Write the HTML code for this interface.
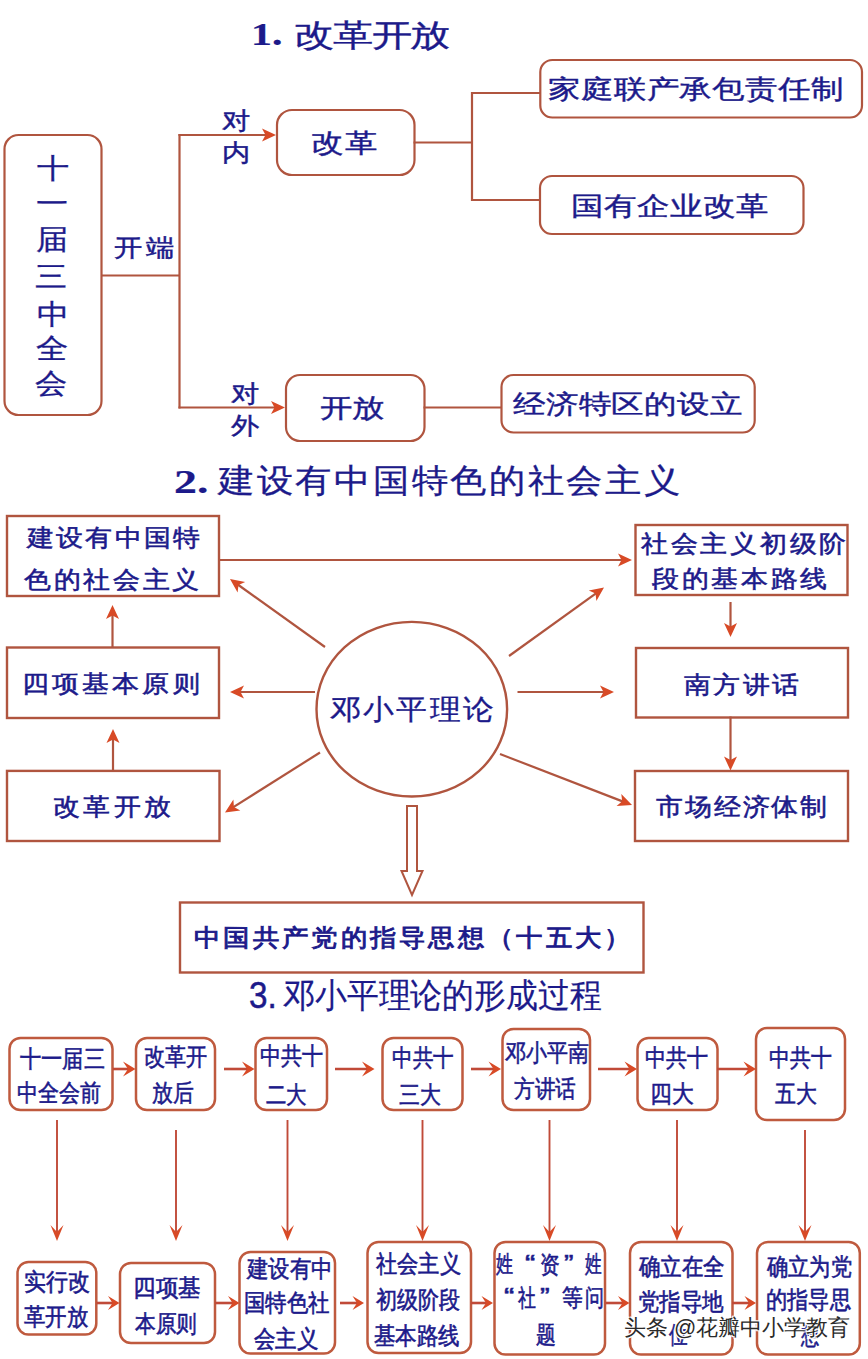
<!DOCTYPE html>
<html><head><meta charset="utf-8"><style>
html,body{margin:0;padding:0;background:#fff;width:868px;height:1359px;overflow:hidden}
.t{position:absolute;white-space:nowrap;color:#1c1a8a;transform-origin:0 0}
svg{position:absolute;left:0;top:0}
.wm{position:absolute;left:624px;top:1314px;font-family:"Liberation Sans",sans-serif;font-size:22px;line-height:28px;color:#2a2a2a;white-space:nowrap;text-shadow:1px 1px 0 #fff,-1px -1px 0 #fff,1px -1px 0 #fff,-1px 1px 0 #fff}
</style></head><body>
<svg width="868" height="1359" viewBox="0 0 868 1359"><rect x="4.5" y="135.0" width="97.0" height="280.0" rx="14" ry="14" fill="none" stroke="#b0553f" stroke-width="2.2"/><line x1="101.0" y1="275.5" x2="179.5" y2="275.5" stroke="#b0553f" stroke-width="2.2"/><line x1="179.5" y1="134.0" x2="179.5" y2="408.5" stroke="#b0553f" stroke-width="2.2"/><line x1="178.5" y1="135.0" x2="266.5" y2="135.0" stroke="#b0553f" stroke-width="2.2"/><path d="M276.0 135.0 L262.0 141.5 L265.5 135.0 L262.0 128.5 Z" fill="#d84a26"/><line x1="178.5" y1="407.5" x2="275.5" y2="407.5" stroke="#b0553f" stroke-width="2.2"/><path d="M285.0 407.5 L271.0 414.0 L274.5 407.5 L271.0 401.0 Z" fill="#d84a26"/><rect x="277.0" y="110.0" width="137.5" height="65.0" rx="15" ry="15" fill="none" stroke="#b0553f" stroke-width="2.2"/><line x1="413.5" y1="142.5" x2="472.0" y2="142.5" stroke="#b0553f" stroke-width="2.2"/><line x1="472.0" y1="92.0" x2="472.0" y2="201.0" stroke="#b0553f" stroke-width="2.2"/><line x1="471.0" y1="93.0" x2="540.0" y2="93.0" stroke="#b0553f" stroke-width="2.2"/><line x1="471.0" y1="200.0" x2="540.0" y2="200.0" stroke="#b0553f" stroke-width="2.2"/><rect x="540.3" y="60.0" width="321.7" height="57.5" rx="12" ry="12" fill="none" stroke="#b0553f" stroke-width="2.2"/><rect x="540.0" y="176.0" width="263.5" height="58.0" rx="12" ry="12" fill="none" stroke="#b0553f" stroke-width="2.2"/><rect x="286.0" y="375.0" width="138.5" height="66.0" rx="14" ry="14" fill="none" stroke="#b0553f" stroke-width="2.2"/><line x1="423.5" y1="407.5" x2="502.0" y2="407.5" stroke="#b0553f" stroke-width="2.2"/><rect x="501.5" y="375.0" width="253.2" height="57.5" rx="12" ry="12" fill="none" stroke="#b0553f" stroke-width="2.2"/><rect x="7.0" y="516.0" width="212.0" height="80.0" rx="0" ry="0" fill="none" stroke="#b0553f" stroke-width="2.4"/><rect x="635.5" y="525.0" width="212.0" height="70.0" rx="0" ry="0" fill="none" stroke="#b0553f" stroke-width="2.4"/><rect x="7.0" y="647.5" width="212.0" height="70.5" rx="0" ry="0" fill="none" stroke="#b0553f" stroke-width="2.4"/><rect x="636.0" y="648.0" width="212.0" height="69.5" rx="0" ry="0" fill="none" stroke="#b0553f" stroke-width="2.4"/><rect x="7.0" y="770.9" width="212.5" height="70.1" rx="0" ry="0" fill="none" stroke="#b0553f" stroke-width="2.4"/><rect x="635.0" y="771.0" width="213.0" height="70.0" rx="0" ry="0" fill="none" stroke="#b0553f" stroke-width="2.4"/><ellipse cx="411.8" cy="709.2" rx="95.3" ry="87.3" fill="none" stroke="#b0553f" stroke-width="2.4"/><line x1="218.0" y1="560.0" x2="622.5" y2="560.0" stroke="#b0553f" stroke-width="2.2"/><path d="M632.0 560.0 L618.0 566.5 L621.5 560.0 L618.0 553.5 Z" fill="#d84a26"/><line x1="325.0" y1="647.0" x2="237.7" y2="584.5" stroke="#b0553f" stroke-width="2.2"/><path d="M230.0 579.0 L245.2 581.9 L238.5 585.1 L237.6 592.4 Z" fill="#d84a26"/><line x1="315.0" y1="692.0" x2="239.5" y2="692.0" stroke="#b0553f" stroke-width="2.2"/><path d="M230.0 692.0 L244.0 685.5 L240.5 692.0 L244.0 698.5 Z" fill="#d84a26"/><line x1="509.0" y1="656.0" x2="596.3" y2="593.1" stroke="#b0553f" stroke-width="2.2"/><path d="M604.0 587.5 L596.4 601.0 L595.5 593.6 L588.8 590.4 Z" fill="#d84a26"/><line x1="517.5" y1="692.0" x2="604.5" y2="692.0" stroke="#b0553f" stroke-width="2.2"/><path d="M614.0 692.0 L600.0 698.5 L603.5 692.0 L600.0 685.5 Z" fill="#d84a26"/><line x1="320.0" y1="752.5" x2="233.0" y2="807.4" stroke="#b0553f" stroke-width="2.2"/><path d="M225.0 812.5 L233.4 799.5 L233.9 806.9 L240.3 810.5 Z" fill="#d84a26"/><line x1="500.0" y1="754.0" x2="623.1" y2="801.6" stroke="#b0553f" stroke-width="2.2"/><path d="M632.0 805.0 L616.6 806.0 L622.2 801.2 L621.3 793.9 Z" fill="#d84a26"/><line x1="112.5" y1="647.5" x2="112.5" y2="614.5" stroke="#b0553f" stroke-width="2.2"/><path d="M112.5 605.0 L119.0 619.0 L112.5 615.5 L106.0 619.0 Z" fill="#d84a26"/><line x1="113.0" y1="770.5" x2="113.0" y2="738.5" stroke="#b0553f" stroke-width="2.2"/><path d="M113.0 729.0 L119.5 743.0 L113.0 739.5 L106.5 743.0 Z" fill="#d84a26"/><line x1="730.5" y1="602.0" x2="730.5" y2="627.5" stroke="#b0553f" stroke-width="2.2"/><path d="M730.5 637.0 L724.0 623.0 L730.5 626.5 L737.0 623.0 Z" fill="#d84a26"/><line x1="730.5" y1="716.5" x2="730.5" y2="761.0" stroke="#b0553f" stroke-width="2.2"/><path d="M730.5 770.5 L724.0 756.5 L730.5 760.0 L737.0 756.5 Z" fill="#d84a26"/><path d="M407.0 806.0 L417.0 806.0 L417.0 871.0 L422.5 871.0 L412.0 895.0 L401.5 871.0 L407.0 871.0 Z" fill="none" stroke="#b0553f" stroke-width="2.0"/><rect x="180.0" y="902.5" width="463.5" height="70.0" rx="0" ry="0" fill="none" stroke="#b0553f" stroke-width="2.4"/><rect x="9.5" y="1038.0" width="103.0" height="72.0" rx="11" ry="11" fill="none" stroke="#bf5a3e" stroke-width="2.5"/><rect x="136.0" y="1038.0" width="79.0" height="72.0" rx="11" ry="11" fill="none" stroke="#bf5a3e" stroke-width="2.5"/><rect x="255.5" y="1038.0" width="71.5" height="72.0" rx="11" ry="11" fill="none" stroke="#bf5a3e" stroke-width="2.5"/><rect x="382.5" y="1038.0" width="80.0" height="72.0" rx="11" ry="11" fill="none" stroke="#bf5a3e" stroke-width="2.5"/><rect x="502.5" y="1029.0" width="87.5" height="81.0" rx="11" ry="11" fill="none" stroke="#bf5a3e" stroke-width="2.5"/><rect x="637.5" y="1038.0" width="80.0" height="72.0" rx="11" ry="11" fill="none" stroke="#bf5a3e" stroke-width="2.5"/><rect x="756.0" y="1028.0" width="89.0" height="92.0" rx="11" ry="11" fill="none" stroke="#bf5a3e" stroke-width="2.5"/><line x1="113.0" y1="1069.0" x2="129.0" y2="1069.0" stroke="#c04a38" stroke-width="2.6"/><path d="M135.5 1069.0 L123.0 1076.5 L128.0 1069.0 L123.0 1061.5 Z" fill="#d84a26"/><line x1="224.0" y1="1069.0" x2="248.0" y2="1069.0" stroke="#c04a38" stroke-width="2.6"/><path d="M254.5 1069.0 L242.0 1076.5 L247.0 1069.0 L242.0 1061.5 Z" fill="#d84a26"/><line x1="335.0" y1="1069.0" x2="368.0" y2="1069.0" stroke="#c04a38" stroke-width="2.6"/><path d="M374.5 1069.0 L362.0 1076.5 L367.0 1069.0 L362.0 1061.5 Z" fill="#d84a26"/><line x1="471.0" y1="1069.0" x2="494.5" y2="1069.0" stroke="#c04a38" stroke-width="2.6"/><path d="M501.0 1069.0 L488.5 1076.5 L493.5 1069.0 L488.5 1061.5 Z" fill="#d84a26"/><line x1="598.0" y1="1069.0" x2="630.5" y2="1069.0" stroke="#c04a38" stroke-width="2.6"/><path d="M637.0 1069.0 L624.5 1076.5 L629.5 1069.0 L624.5 1061.5 Z" fill="#d84a26"/><line x1="717.0" y1="1069.0" x2="749.5" y2="1069.0" stroke="#c04a38" stroke-width="2.6"/><path d="M756.0 1069.0 L743.5 1076.5 L748.5 1069.0 L743.5 1061.5 Z" fill="#d84a26"/><line x1="57.0" y1="1120.0" x2="57.0" y2="1233.0" stroke="#c04a38" stroke-width="1.9"/><path d="M57.0 1241.0 L50.5 1225.0 L57.0 1232.0 L63.5 1225.0 Z" fill="#d84a26"/><line x1="176.0" y1="1130.0" x2="176.0" y2="1233.0" stroke="#c04a38" stroke-width="1.9"/><path d="M176.0 1241.0 L169.5 1225.0 L176.0 1232.0 L182.5 1225.0 Z" fill="#d84a26"/><line x1="287.5" y1="1120.0" x2="287.5" y2="1233.0" stroke="#c04a38" stroke-width="1.9"/><path d="M287.5 1241.0 L281.0 1225.0 L287.5 1232.0 L294.0 1225.0 Z" fill="#d84a26"/><line x1="422.5" y1="1120.0" x2="422.5" y2="1233.0" stroke="#c04a38" stroke-width="1.9"/><path d="M422.5 1241.0 L416.0 1225.0 L422.5 1232.0 L429.0 1225.0 Z" fill="#d84a26"/><line x1="549.5" y1="1120.0" x2="549.5" y2="1233.0" stroke="#c04a38" stroke-width="1.9"/><path d="M549.5 1241.0 L543.0 1225.0 L549.5 1232.0 L556.0 1225.0 Z" fill="#d84a26"/><line x1="677.0" y1="1120.0" x2="677.0" y2="1233.0" stroke="#c04a38" stroke-width="1.9"/><path d="M677.0 1241.0 L670.5 1225.0 L677.0 1232.0 L683.5 1225.0 Z" fill="#d84a26"/><line x1="805.0" y1="1130.0" x2="805.0" y2="1233.0" stroke="#c04a38" stroke-width="1.9"/><path d="M805.0 1241.0 L798.5 1225.0 L805.0 1232.0 L811.5 1225.0 Z" fill="#d84a26"/><rect x="17.5" y="1262.0" width="78.8" height="72.5" rx="11" ry="11" fill="none" stroke="#bf5a3e" stroke-width="2.5"/><rect x="120.0" y="1263.0" width="95.0" height="80.0" rx="11" ry="11" fill="none" stroke="#bf5a3e" stroke-width="2.5"/><rect x="239.5" y="1252.0" width="95.5" height="101.5" rx="11" ry="11" fill="none" stroke="#bf5a3e" stroke-width="2.5"/><rect x="367.5" y="1242.0" width="103.5" height="111.0" rx="11" ry="11" fill="none" stroke="#bf5a3e" stroke-width="2.5"/><rect x="494.5" y="1242.0" width="110.5" height="112.5" rx="11" ry="11" fill="none" stroke="#bf5a3e" stroke-width="2.5"/><rect x="630.0" y="1242.0" width="102.5" height="112.5" rx="11" ry="11" fill="none" stroke="#bf5a3e" stroke-width="2.5"/><rect x="757.0" y="1242.0" width="102.8" height="112.5" rx="11" ry="11" fill="none" stroke="#bf5a3e" stroke-width="2.5"/><line x1="96.5" y1="1303.0" x2="113.5" y2="1303.0" stroke="#c04a38" stroke-width="2.6"/><path d="M119.5 1303.0 L108.0 1310.0 L112.5 1303.0 L108.0 1296.0 Z" fill="#d84a26"/><line x1="215.0" y1="1303.0" x2="233.5" y2="1303.0" stroke="#c04a38" stroke-width="2.6"/><path d="M239.5 1303.0 L228.0 1310.0 L232.5 1303.0 L228.0 1296.0 Z" fill="#d84a26"/><line x1="340.0" y1="1303.0" x2="358.0" y2="1303.0" stroke="#c04a38" stroke-width="2.6"/><path d="M364.0 1303.0 L352.5 1310.0 L357.0 1303.0 L352.5 1296.0 Z" fill="#d84a26"/><line x1="471.0" y1="1303.0" x2="487.0" y2="1303.0" stroke="#c04a38" stroke-width="2.6"/><path d="M493.0 1303.0 L481.5 1310.0 L486.0 1303.0 L481.5 1296.0 Z" fill="#d84a26"/><line x1="605.5" y1="1303.0" x2="623.5" y2="1303.0" stroke="#c04a38" stroke-width="2.6"/><path d="M629.5 1303.0 L618.0 1310.0 L622.5 1303.0 L618.0 1296.0 Z" fill="#d84a26"/><line x1="732.0" y1="1303.0" x2="750.0" y2="1303.0" stroke="#c04a38" stroke-width="2.6"/><path d="M756.0 1303.0 L744.5 1310.0 L749.0 1303.0 L744.5 1296.0 Z" fill="#d84a26"/></svg>
<div class="t" style="left:251.3px;top:19.0px;font-family:'Liberation Serif',serif;font-size:31px;line-height:31px;font-weight:bold;-webkit-text-stroke:0.2px #1c1a8a;transform:scaleX(1.350);">1.</div><div class="t" style="left:293.7px;top:20.0px;font-family:'Liberation Serif',serif;font-size:31px;line-height:31px;font-weight:normal;-webkit-text-stroke:0.35px #1c1a8a;letter-spacing:-1.18px;transform:scaleX(1.300);">改革开放</div><div class="t" style="left:36.5px;top:154.5px;font-family:'Liberation Sans',sans-serif;font-size:28px;line-height:28px;font-weight:normal;-webkit-text-stroke:0.3px #1c1a8a;transform:scaleX(1.150);">十</div><div class="t" style="left:35.9px;top:189.5px;font-family:'Liberation Sans',sans-serif;font-size:28px;line-height:28px;font-weight:normal;-webkit-text-stroke:0.3px #1c1a8a;transform:scaleX(1.150);">一</div><div class="t" style="left:36.0px;top:225.5px;font-family:'Liberation Sans',sans-serif;font-size:28px;line-height:28px;font-weight:normal;-webkit-text-stroke:0.3px #1c1a8a;transform:scaleX(1.150);">届</div><div class="t" style="left:35.4px;top:262.5px;font-family:'Liberation Sans',sans-serif;font-size:28px;line-height:28px;font-weight:normal;-webkit-text-stroke:0.3px #1c1a8a;transform:scaleX(1.150);">三</div><div class="t" style="left:36.5px;top:300.8px;font-family:'Liberation Sans',sans-serif;font-size:28px;line-height:28px;font-weight:normal;-webkit-text-stroke:0.3px #1c1a8a;transform:scaleX(1.150);">中</div><div class="t" style="left:35.9px;top:334.5px;font-family:'Liberation Sans',sans-serif;font-size:28px;line-height:28px;font-weight:normal;-webkit-text-stroke:0.3px #1c1a8a;transform:scaleX(1.150);">全</div><div class="t" style="left:34.9px;top:370.0px;font-family:'Liberation Sans',sans-serif;font-size:28px;line-height:28px;font-weight:normal;-webkit-text-stroke:0.3px #1c1a8a;transform:scaleX(1.150);">会</div><div class="t" style="left:113.8px;top:236.0px;font-family:'Liberation Sans',sans-serif;font-size:24px;line-height:24px;font-weight:normal;-webkit-text-stroke:0.45px #1c1a8a;letter-spacing:3.15px;transform:scaleX(1.180);">开端</div><div class="t" style="left:221.8px;top:108.5px;font-family:'Liberation Sans',sans-serif;font-size:24px;line-height:24px;font-weight:normal;-webkit-text-stroke:0.45px #1c1a8a;transform:scaleX(1.180);">对</div><div class="t" style="left:221.8px;top:140.5px;font-family:'Liberation Sans',sans-serif;font-size:24px;line-height:24px;font-weight:normal;-webkit-text-stroke:0.45px #1c1a8a;transform:scaleX(1.180);">内</div><div class="t" style="left:230.8px;top:381.5px;font-family:'Liberation Sans',sans-serif;font-size:24px;line-height:24px;font-weight:normal;-webkit-text-stroke:0.45px #1c1a8a;transform:scaleX(1.180);">对</div><div class="t" style="left:230.8px;top:413.5px;font-family:'Liberation Sans',sans-serif;font-size:24px;line-height:24px;font-weight:normal;-webkit-text-stroke:0.45px #1c1a8a;transform:scaleX(1.180);">外</div><div class="t" style="left:310.8px;top:130.0px;font-family:'Liberation Sans',sans-serif;font-size:26px;line-height:26px;font-weight:normal;-webkit-text-stroke:0.4px #1c1a8a;letter-spacing:1.20px;transform:scaleX(1.250);">改革</div><div class="t" style="left:547.8px;top:75.8px;font-family:'Liberation Sans',sans-serif;font-size:26px;line-height:26px;font-weight:normal;-webkit-text-stroke:0.4px #1c1a8a;letter-spacing:0.30px;transform:scaleX(1.250);">家庭联产承包责任制</div><div class="t" style="left:570.5px;top:192.8px;font-family:'Liberation Sans',sans-serif;font-size:26px;line-height:26px;font-weight:normal;-webkit-text-stroke:0.4px #1c1a8a;letter-spacing:0.44px;transform:scaleX(1.250);">国有企业改革</div><div class="t" style="left:319.8px;top:394.5px;font-family:'Liberation Sans',sans-serif;font-size:26px;line-height:26px;font-weight:normal;-webkit-text-stroke:0.4px #1c1a8a;letter-spacing:-0.40px;transform:scaleX(1.250);">开放</div><div class="t" style="left:513.0px;top:391.2px;font-family:'Liberation Sans',sans-serif;font-size:26px;line-height:26px;font-weight:normal;-webkit-text-stroke:0.4px #1c1a8a;letter-spacing:0.23px;transform:scaleX(1.250);">经济特区的设立</div><div class="t" style="left:173.7px;top:464.8px;font-family:'Liberation Serif',serif;font-size:34px;line-height:34px;font-weight:bold;-webkit-text-stroke:0.2px #1c1a8a;transform:scaleX(1.348);">2.</div><div class="t" style="left:217.5px;top:465.0px;font-family:'Liberation Serif',serif;font-size:33px;line-height:33px;font-weight:normal;-webkit-text-stroke:0.3px #1c1a8a;letter-spacing:2.19px;transform:scaleX(1.100);">建设有中国特色的社会主义</div><div class="t" style="left:27.1px;top:525.5px;font-family:'Liberation Sans',sans-serif;font-size:24px;line-height:24px;font-weight:normal;-webkit-text-stroke:0.55px #1c1a8a;letter-spacing:2.07px;transform:scaleX(1.120);">建设有中国特</div><div class="t" style="left:24.0px;top:568.0px;font-family:'Liberation Sans',sans-serif;font-size:24px;line-height:24px;font-weight:normal;-webkit-text-stroke:0.55px #1c1a8a;letter-spacing:2.47px;transform:scaleX(1.120);">色的社会主义</div><div class="t" style="left:641.0px;top:531.8px;font-family:'Liberation Sans',sans-serif;font-size:24px;line-height:24px;font-weight:normal;-webkit-text-stroke:0.55px #1c1a8a;letter-spacing:2.52px;transform:scaleX(1.120);">社会主义初级阶</div><div class="t" style="left:652.0px;top:566.8px;font-family:'Liberation Sans',sans-serif;font-size:24px;line-height:24px;font-weight:normal;-webkit-text-stroke:0.55px #1c1a8a;letter-spacing:2.47px;transform:scaleX(1.120);">段的基本路线</div><div class="t" style="left:21.6px;top:671.8px;font-family:'Liberation Sans',sans-serif;font-size:24px;line-height:24px;font-weight:normal;-webkit-text-stroke:0.55px #1c1a8a;letter-spacing:2.89px;transform:scaleX(1.120);">四项基本原则</div><div class="t" style="left:683.5px;top:672.8px;font-family:'Liberation Sans',sans-serif;font-size:24px;line-height:24px;font-weight:normal;-webkit-text-stroke:0.55px #1c1a8a;letter-spacing:2.23px;transform:scaleX(1.120);">南方讲话</div><div class="t" style="left:52.9px;top:794.8px;font-family:'Liberation Sans',sans-serif;font-size:24px;line-height:24px;font-weight:normal;-webkit-text-stroke:0.55px #1c1a8a;letter-spacing:3.19px;transform:scaleX(1.120);">改革开放</div><div class="t" style="left:656.0px;top:795.0px;font-family:'Liberation Sans',sans-serif;font-size:24px;line-height:24px;font-weight:normal;-webkit-text-stroke:0.55px #1c1a8a;letter-spacing:1.76px;transform:scaleX(1.120);">市场经济体制</div><div class="t" style="left:330.0px;top:695.8px;font-family:'Liberation Sans',sans-serif;font-size:28px;line-height:28px;font-weight:normal;-webkit-text-stroke:0.3px #1c1a8a;letter-spacing:2.18px;transform:scaleX(1.100);">邓小平理论</div><div class="t" style="left:193.9px;top:926.2px;font-family:'Liberation Sans',sans-serif;font-size:24px;line-height:24px;font-weight:normal;-webkit-text-stroke:0.9px #1c1a8a;letter-spacing:2.64px;transform:scaleX(1.100);">中国共产党的指导思想（十五大）</div><div class="t" style="left:249.1px;top:978.0px;font-family:'Liberation Sans',sans-serif;font-size:36px;line-height:36px;font-weight:normal;-webkit-text-stroke:0.5px #1c1a8a;transform:scaleX(0.923);">3.</div><div class="t" style="left:282.5px;top:978.5px;font-family:'Liberation Serif',serif;font-size:34px;line-height:34px;font-weight:normal;-webkit-text-stroke:0.2px #1c1a8a;transform:scaleX(0.937);">邓小平理论的形成过程</div><div class="t" style="left:20.0px;top:1046.8px;font-family:'Liberation Sans',sans-serif;font-size:24px;line-height:24px;font-weight:normal;-webkit-text-stroke:0.55px #1c1a8a;transform:scaleX(0.884);">十一届三</div><div class="t" style="left:16.6px;top:1081.0px;font-family:'Liberation Sans',sans-serif;font-size:24px;line-height:24px;font-weight:normal;-webkit-text-stroke:0.55px #1c1a8a;transform:scaleX(0.878);">中全会前</div><div class="t" style="left:144.1px;top:1044.8px;font-family:'Liberation Sans',sans-serif;font-size:24px;line-height:24px;font-weight:normal;-webkit-text-stroke:0.55px #1c1a8a;transform:scaleX(0.880);">改革开</div><div class="t" style="left:151.6px;top:1080.5px;font-family:'Liberation Sans',sans-serif;font-size:24px;line-height:24px;font-weight:normal;-webkit-text-stroke:0.55px #1c1a8a;transform:scaleX(0.870);">放后</div><div class="t" style="left:260.1px;top:1044.2px;font-family:'Liberation Sans',sans-serif;font-size:24px;line-height:24px;font-weight:normal;-webkit-text-stroke:0.55px #1c1a8a;transform:scaleX(0.879);">中共十</div><div class="t" style="left:266.0px;top:1083.0px;font-family:'Liberation Sans',sans-serif;font-size:24px;line-height:24px;font-weight:normal;-webkit-text-stroke:0.55px #1c1a8a;transform:scaleX(0.851);">二大</div><div class="t" style="left:391.6px;top:1045.5px;font-family:'Liberation Sans',sans-serif;font-size:24px;line-height:24px;font-weight:normal;-webkit-text-stroke:0.55px #1c1a8a;transform:scaleX(0.857);">中共十</div><div class="t" style="left:399.0px;top:1082.5px;font-family:'Liberation Sans',sans-serif;font-size:24px;line-height:24px;font-weight:normal;-webkit-text-stroke:0.55px #1c1a8a;transform:scaleX(0.872);">三大</div><div class="t" style="left:505.0px;top:1041.2px;font-family:'Liberation Sans',sans-serif;font-size:24px;line-height:24px;font-weight:normal;-webkit-text-stroke:0.55px #1c1a8a;transform:scaleX(0.874);">邓小平南</div><div class="t" style="left:514.0px;top:1076.5px;font-family:'Liberation Sans',sans-serif;font-size:24px;line-height:24px;font-weight:normal;-webkit-text-stroke:0.55px #1c1a8a;transform:scaleX(0.861);">方讲话</div><div class="t" style="left:645.1px;top:1046.2px;font-family:'Liberation Sans',sans-serif;font-size:24px;line-height:24px;font-weight:normal;-webkit-text-stroke:0.55px #1c1a8a;transform:scaleX(0.879);">中共十</div><div class="t" style="left:649.8px;top:1081.8px;font-family:'Liberation Sans',sans-serif;font-size:24px;line-height:24px;font-weight:normal;-webkit-text-stroke:0.55px #1c1a8a;transform:scaleX(0.909);">四大</div><div class="t" style="left:769.1px;top:1046.2px;font-family:'Liberation Sans',sans-serif;font-size:24px;line-height:24px;font-weight:normal;-webkit-text-stroke:0.55px #1c1a8a;transform:scaleX(0.871);">中共十</div><div class="t" style="left:775.0px;top:1081.8px;font-family:'Liberation Sans',sans-serif;font-size:24px;line-height:24px;font-weight:normal;-webkit-text-stroke:0.55px #1c1a8a;transform:scaleX(0.872);">五大</div><div class="t" style="left:24.1px;top:1270.0px;font-family:'Liberation Sans',sans-serif;font-size:24px;line-height:24px;font-weight:normal;-webkit-text-stroke:0.6px #1c1a8a;transform:scaleX(0.914);">实行改</div><div class="t" style="left:24.0px;top:1305.0px;font-family:'Liberation Sans',sans-serif;font-size:24px;line-height:24px;font-weight:normal;-webkit-text-stroke:0.6px #1c1a8a;transform:scaleX(0.894);">革开放</div><div class="t" style="left:133.2px;top:1275.5px;font-family:'Liberation Sans',sans-serif;font-size:24px;line-height:24px;font-weight:normal;-webkit-text-stroke:0.6px #1c1a8a;transform:scaleX(0.941);">四项基</div><div class="t" style="left:135.0px;top:1311.8px;font-family:'Liberation Sans',sans-serif;font-size:24px;line-height:24px;font-weight:normal;-webkit-text-stroke:0.6px #1c1a8a;transform:scaleX(0.859);">本原则</div><div class="t" style="left:246.9px;top:1257.2px;font-family:'Liberation Sans',sans-serif;font-size:24px;line-height:24px;font-weight:normal;-webkit-text-stroke:0.6px #1c1a8a;transform:scaleX(0.894);">建设有中</div><div class="t" style="left:244.2px;top:1291.2px;font-family:'Liberation Sans',sans-serif;font-size:24px;line-height:24px;font-weight:normal;-webkit-text-stroke:0.6px #1c1a8a;transform:scaleX(0.894);">国特色社</div><div class="t" style="left:254.0px;top:1326.8px;font-family:'Liberation Sans',sans-serif;font-size:24px;line-height:24px;font-weight:normal;-webkit-text-stroke:0.6px #1c1a8a;transform:scaleX(0.894);">会主义</div><div class="t" style="left:376.0px;top:1251.8px;font-family:'Liberation Sans',sans-serif;font-size:24px;line-height:24px;font-weight:normal;-webkit-text-stroke:0.6px #1c1a8a;transform:scaleX(0.884);">社会主义</div><div class="t" style="left:376.0px;top:1287.5px;font-family:'Liberation Sans',sans-serif;font-size:24px;line-height:24px;font-weight:normal;-webkit-text-stroke:0.6px #1c1a8a;transform:scaleX(0.875);">初级阶段</div><div class="t" style="left:374.1px;top:1323.8px;font-family:'Liberation Sans',sans-serif;font-size:24px;line-height:24px;font-weight:normal;-webkit-text-stroke:0.6px #1c1a8a;transform:scaleX(0.894);">基本路线</div><div class="t" style="left:496.0px;top:1252.2px;font-family:'Liberation Sans',sans-serif;font-size:24px;line-height:24px;font-weight:normal;-webkit-text-stroke:0.6px #1c1a8a;transform:scaleX(0.708);">姓</div><div class="t" style="left:525.3px;top:1252.0px;font-family:'Liberation Sans',sans-serif;font-size:24px;line-height:24px;font-weight:normal;-webkit-text-stroke:0.6px #1c1a8a;transform:scaleX(1.286);">“</div><div class="t" style="left:540.2px;top:1253.2px;font-family:'Liberation Sans',sans-serif;font-size:24px;line-height:24px;font-weight:normal;-webkit-text-stroke:0.6px #1c1a8a;transform:scaleX(0.818);">资</div><div class="t" style="left:563.5px;top:1252.0px;font-family:'Liberation Sans',sans-serif;font-size:24px;line-height:24px;font-weight:normal;-webkit-text-stroke:0.6px #1c1a8a;transform:scaleX(1.186);">”</div><div class="t" style="left:585.4px;top:1252.2px;font-family:'Liberation Sans',sans-serif;font-size:24px;line-height:24px;font-weight:normal;-webkit-text-stroke:0.6px #1c1a8a;transform:scaleX(0.692);">姓</div><div class="t" style="left:503.7px;top:1285.0px;font-family:'Liberation Sans',sans-serif;font-size:24px;line-height:24px;font-weight:normal;-webkit-text-stroke:0.6px #1c1a8a;transform:scaleX(1.286);">“</div><div class="t" style="left:517.7px;top:1286.2px;font-family:'Liberation Sans',sans-serif;font-size:24px;line-height:24px;font-weight:normal;-webkit-text-stroke:0.6px #1c1a8a;transform:scaleX(0.746);">社</div><div class="t" style="left:539.8px;top:1285.0px;font-family:'Liberation Sans',sans-serif;font-size:24px;line-height:24px;font-weight:normal;-webkit-text-stroke:0.6px #1c1a8a;transform:scaleX(1.214);">”</div><div class="t" style="left:562.0px;top:1286.2px;font-family:'Liberation Sans',sans-serif;font-size:24px;line-height:24px;font-weight:normal;-webkit-text-stroke:0.6px #1c1a8a;transform:scaleX(0.870);">等</div><div class="t" style="left:584.6px;top:1286.2px;font-family:'Liberation Sans',sans-serif;font-size:24px;line-height:24px;font-weight:normal;-webkit-text-stroke:0.6px #1c1a8a;transform:scaleX(0.790);">问</div><div class="t" style="left:536.0px;top:1323.0px;font-family:'Liberation Sans',sans-serif;font-size:24px;line-height:24px;font-weight:normal;-webkit-text-stroke:0.6px #1c1a8a;transform:scaleX(0.826);">题</div><div class="t" style="left:639.0px;top:1255.0px;font-family:'Liberation Sans',sans-serif;font-size:24px;line-height:24px;font-weight:normal;-webkit-text-stroke:0.6px #1c1a8a;transform:scaleX(0.895);">确立在全</div><div class="t" style="left:638.1px;top:1289.5px;font-family:'Liberation Sans',sans-serif;font-size:24px;line-height:24px;font-weight:normal;-webkit-text-stroke:0.6px #1c1a8a;transform:scaleX(0.895);">党指导地</div><div class="t" style="left:669.0px;top:1323.2px;font-family:'Liberation Sans',sans-serif;font-size:24px;line-height:24px;font-weight:normal;-webkit-text-stroke:0.6px #1c1a8a;transform:scaleX(0.771);">位</div><div class="t" style="left:767.0px;top:1254.5px;font-family:'Liberation Sans',sans-serif;font-size:24px;line-height:24px;font-weight:normal;-webkit-text-stroke:0.6px #1c1a8a;transform:scaleX(0.884);">确立为党</div><div class="t" style="left:766.1px;top:1288.2px;font-family:'Liberation Sans',sans-serif;font-size:24px;line-height:24px;font-weight:normal;-webkit-text-stroke:0.6px #1c1a8a;transform:scaleX(0.884);">的指导思</div><div class="t" style="left:801.0px;top:1323.8px;font-family:'Liberation Sans',sans-serif;font-size:24px;line-height:24px;font-weight:normal;-webkit-text-stroke:0.6px #1c1a8a;transform:scaleX(0.761);">想</div>
<div class="wm">头条 @花瓣中小学教育</div>
</body></html>
